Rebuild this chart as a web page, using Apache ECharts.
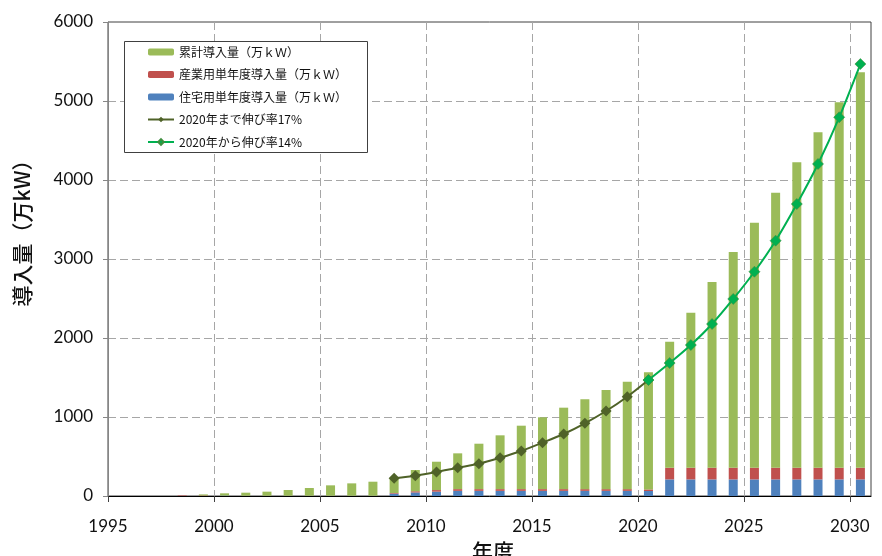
<!DOCTYPE html>
<html>
<head>
<meta charset="utf-8">
<script src="https://cdn.jsdelivr.net/npm/echarts@6/dist/echarts.min.js"></script>
<style>
  html, body { margin: 0; padding: 0; background: #fff; }
  #chart { width: 882px; height: 556px; }
</style>
</head>
<body>
<div id="chart"></div>
<script>
// Fiscal years shown on the chart (one category per year)
const years = ['1995','1996','1997','1998','1999','2000','2001','2002','2003','2004','2005','2006',
  '2007','2008','2009','2010','2011','2012','2013','2014','2015','2016','2017','2018','2019','2020',
  '2021','2022','2023','2024','2025','2026','2027','2028','2029','2030'];

// Residential installations per year (万kW)
const residential = [null,null,null,0,0,5,2,2,2,2,2,2,2,30,45,55,65,65,65,65,65,65,65,65,65,63,
  210,210,210,210,210,210,210,210,210,210];

// Industrial installations per year (万kW)
const industrial = [null,null,null,6,6,0,1,1,1,1,1,1,1,8,15,20,22,22,22,22,22,22,22,22,22,20,
  148,148,148,148,148,148,148,148,148,148];

// Cumulative installed capacity segment (万kW)
const cumulative = [null,null,null,0,14,29,39,52,73,98,132,157,178,177,269,359,453,575,681,803,909,
  1031,1137,1255,1360,1483,1595,1962,2351,2731,3102,3481,3866,4245,4626,5005];

// Growth path at 17% per year up to 2020
const growth17 = [null,null,null,null,null,null,null,null,null,null,null,null,null,
  224,257,304,358,409,485,570,675,785,920,1076,1257,1468,
  null,null,null,null,null,null,null,null,null,null];

// Growth path at 14% per year from 2020
const growth14 = [null,null,null,null,null,null,null,null,null,null,null,null,null,
  null,null,null,null,null,null,null,null,null,null,null,null,1468,
  1683,1911,2177,2494,2839,3232,3696,4203,4794,5468];

// Axis ticks
const yearTicks = { min: 1995, max: 2031, step: 5 };
const valueTicks = { min: 0, max: 6000, step: 1000 };

const seriesNames = ['累計導入量（万ｋＷ）', '産業用単年度導入量（万ｋＷ）', '住宅用単年度導入量（万ｋＷ）',
  '2020年まで伸び率17%', '2020年から伸び率14%'];

const numFont = 'Lato, "Open Sans", sans-serif';
const cjkFont = '"Noto Sans CJK JP", "Noto Sans", sans-serif';

const chart = echarts.init(document.getElementById('chart'), null, { renderer: 'canvas' });

const dashed = { color: '#a6a6a6', type: [8, 4], width: 1 };

chart.setOption({
  animation: false,
  backgroundColor: '#fff',
  grid: {
    left: 108, top: 22, width: 763, height: 474,
    show: true, borderColor: '#404040', borderWidth: 1, backgroundColor: 'transparent'
  },
  graphic: [
    {
      type: 'rect', z: 50,
      shape: { x: 124.5, y: 41.5, width: 243, height: 111 },
      style: { fill: '#fff', stroke: '#404040', lineWidth: 1 }
    },
    {
      type: 'text', z: 60,
      x: 22, y: 228, rotation: Math.PI / 2,
      style: {
        text: '導入量（万kW）', font: '500 21px ' + cjkFont, fill: '#111',
        align: 'center', verticalAlign: 'middle'
      }
    },
    {
      type: 'text', z: 60,
      x: 493, y: 551,
      style: {
        text: '年度', font: '500 21px ' + cjkFont, fill: '#111',
        align: 'center', verticalAlign: 'middle'
      }
    }
  ],
  legend: {
    orient: 'vertical',
    left: 126, top: 43,
    z: 55,
    padding: [2, 0, 0, 21],
    itemGap: 8.5,
    itemWidth: 26,
    itemHeight: 7,
    data: seriesNames,
    textStyle: { fontFamily: cjkFont, fontSize: 12, color: '#111', lineHeight: 14 }
  },
  xAxis: [
    {
      type: 'category', data: years, boundaryGap: true, show: false
    },
    {
      type: 'value', position: 'bottom',
      min: yearTicks.min, max: yearTicks.max, interval: yearTicks.step,
      axisLine: { show: true, lineStyle: { color: '#000', width: 1 } },
      axisTick: { show: true, inside: false, length: 6, lineStyle: { color: '#404040' } },
      axisLabel: {
        show: true, showMaxLabel: false, margin: 22,
        fontFamily: numFont, fontSize: 17, color: '#111',
        formatter: v => String(v)
      },
      splitLine: { show: true, showMinLine: false, showMaxLine: false, lineStyle: dashed }
    }
  ],
  yAxis: {
    type: 'value',
    min: valueTicks.min, max: valueTicks.max, interval: valueTicks.step,
    axisLine: { show: true, lineStyle: { color: '#868686', width: 1 } },
    axisTick: { show: true, inside: false, length: 5, lineStyle: { color: '#868686' } },
    axisLabel: {
      margin: 15, fontFamily: numFont, fontSize: 17, color: '#111',
      formatter: v => String(v)
    },
    splitLine: { show: true, showMinLine: false, showMaxLine: false, lineStyle: dashed }
  },
  series: [
    {
      name: seriesNames[2], type: 'bar', stack: 'total', xAxisIndex: 0,
      data: residential, barWidth: 9,
      itemStyle: { color: '#4F81BD' }
    },
    {
      name: seriesNames[1], type: 'bar', stack: 'total', xAxisIndex: 0,
      data: industrial, barWidth: 9,
      itemStyle: { color: '#C0504D' }
    },
    {
      name: seriesNames[0], type: 'bar', stack: 'total', xAxisIndex: 0,
      data: cumulative, barWidth: 9,
      itemStyle: { color: '#9BBB59' }
    },
    {
      name: seriesNames[3], type: 'line', xAxisIndex: 0, z: 5,
      data: growth17, smooth: 0.25, connectNulls: false,
      symbol: 'diamond', symbolSize: 11,
      lineStyle: { color: '#4F6228', width: 2 },
      itemStyle: { color: '#4F6228' }
    },
    {
      name: seriesNames[4], type: 'line', xAxisIndex: 0, z: 6,
      data: growth14, smooth: 0.25, connectNulls: false,
      symbol: 'diamond', symbolSize: 11,
      lineStyle: { color: '#00B050', width: 2 },
      itemStyle: { color: '#00B050', borderColor: '#3f8f3f', borderWidth: 0.6 }
    }
  ]
});
</script>
</body>
</html>
